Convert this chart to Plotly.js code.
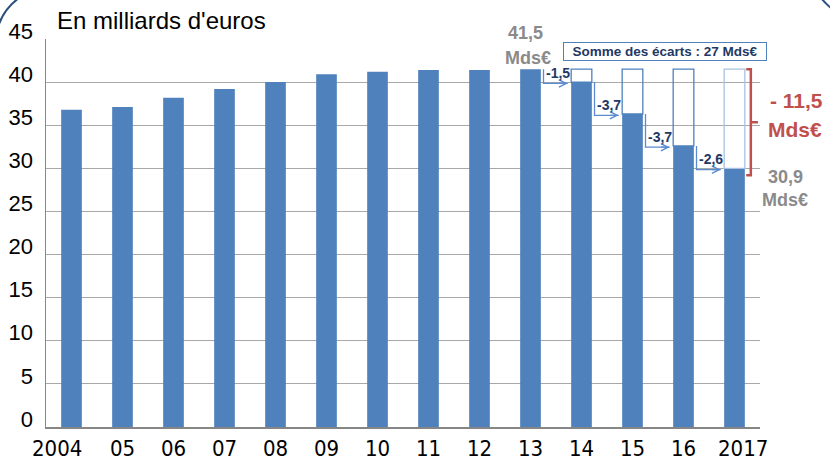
<!DOCTYPE html>
<html>
<head>
<meta charset="utf-8">
<script src="https://cdn.plot.ly/plotly-3.0.1.min.js"></script>
<style>html,body{margin:0;padding:0;background:#fff}#chart{width:830px;height:461px}</style>
</head>
<body>
<div id="chart"></div>
<script>
// ---- data ----
const years = [2004, 2005, 2006, 2007, 2008, 2009, 2010, 2011, 2012, 2013, 2014, 2015, 2016, 2017];
const tickLabels = ['2004', '05', '06', '07', '08', '09', '10', '11', '12', '13', '14', '15', '16', '2017'];
const values = [36.8, 37.1, 38.2, 39.2, 40.0, 40.9, 41.2, 41.4, 41.4, 41.5, 40.0, 36.3, 32.6, 30.0];
const peakYear = 2013;
const peakValue = 41.5;
const declineYears = [2014, 2015, 2016, 2017];
const declineLabels = ['-1,5', '-3,7', '-3,7', '-2,6'];
const unitLabel = "En milliards d'euros";
const peakLabel = ['41,5', 'Mds€'];
const endLabel = ['30,9', 'Mds€'];
const totalLabel = ['- 11,5', 'Mds€'];
const sumLabel = 'Somme des écarts : 27 Mds€';

// ---- layout helpers (pixels -> paper) ----
const L = 46, R = 760, T = 39, B = 427;
const px = x => (x - L) / (R - L);
const py = y => (B - y) / (B - T);

const BLUE = '#4F81BD', NAVY = '#1f3864', RED = '#c0504d', GREY = '#8a8a8a';
const FONT = 'Liberation Sans, Arial, sans-serif';
const NARROW = 'Liberation Sans Narrow, DejaVu Sans Condensed, Arial Narrow, sans-serif';
const barW = 0.405;

const declineVals = declineYears.map(y => values[years.indexOf(y)]);

const traces = [
  {
    type: 'bar', x: years, y: values, width: barW,
    marker: {color: BLUE, line: {width: 0}}, hoverinfo: 'skip'
  },
  {
    type: 'bar', x: declineYears, base: declineVals,
    y: declineVals.map(v => peakValue - v), width: barW,
    marker: {color: 'rgba(0,0,0,0)', line: {color: [BLUE, BLUE, BLUE, '#a9c1e0'], width: 1.3}},
    hoverinfo: 'skip'
  }
];

const shapes = [];
const annotations = [];

// x tick labels as annotations (end labels slightly offset like the original)
const labelShift = {0: -15, 13: 8};
tickLabels.forEach((t, i) => {
  annotations.push({
    xref: 'x', yref: 'paper', x: years[i], y: 0, xanchor: 'center', yanchor: 'middle',
    yshift: -21, xshift: labelShift[i] || 0, text: t, showarrow: false,
    borderpad: 0,
    font: {family: NARROW, size: 22, color: '#000'}
  });
});

// step arrows and decline labels
declineYears.forEach((yr, k) => {
  const i = years.indexOf(yr);
  const prevYr = years[i - 1], prevVal = values[i - 1], val = values[i];
  const xv = prevYr + 0.255, xe = yr - 0.27;
  shapes.push({
    type: 'path', xref: 'x', yref: 'y',
    path: `M ${xv},${prevVal} L ${xv},${val - 0.15} L ${xe},${val - 0.15}`,
    line: {color: '#5b8bd0', width: 1.3}
  });
  annotations.push({
    xref: 'x', yref: 'y', axref: 'x', ayref: 'y',
    x: xe, y: val - 0.15, ax: xe - 0.2, ay: val - 0.15, text: '',
    showarrow: true, arrowhead: 5, arrowsize: 1.1, arrowwidth: 1.3, arrowcolor: '#5b8bd0', standoff: 0
  });
  annotations.push({
    xref: 'x', yref: 'y', x: yr, y: val, xshift: -24, yshift: 9,
    xanchor: 'center', yanchor: 'middle',
    text: declineLabels[k], showarrow: false,
    font: {family: FONT, size: 14, color: NAVY, weight: 'bold'}
  });
});

// red bracket
const lastYear = years[years.length - 1], lastVal = values[values.length - 1];
const bx = lastYear + 0.32, bBot = lastVal - 0.8, bMid = (peakValue + bBot) / 2;
shapes.push({
  type: 'path', xref: 'x', yref: 'y',
  path: `M ${bx - 0.09},${peakValue} L ${bx},${peakValue} L ${bx},${bBot} L ${bx - 0.09},${bBot} M ${bx},${bMid} L ${bx + 0.14},${bMid}`,
  line: {color: RED, width: 2.5}
});

// texts
const txt = (x, y, text, font, extra) => Object.assign({
  xref: 'paper', yref: 'paper', x: px(x), y: py(y), xanchor: 'center', yanchor: 'middle',
  text: text, showarrow: false, font: font
}, extra || {});
annotations.push(
  txt(55, 21, unitLabel, {family: FONT, size: 24, color: '#000'}, {xanchor: 'left'}),
  {xref: 'x', yref: 'paper', x: peakYear, xshift: -5, y: py(33), xanchor: 'center', yanchor: 'middle',
   text: peakLabel[0], showarrow: false, font: {family: FONT, size: 18, color: GREY, weight: 'bold'}},
  {xref: 'x', yref: 'paper', x: peakYear, xshift: -3, y: py(58), xanchor: 'center', yanchor: 'middle',
   text: peakLabel[1], showarrow: false, font: {family: FONT, size: 18, color: GREY, weight: 'bold'}},
  txt(785, 177, endLabel[0], {family: FONT, size: 18, color: GREY, weight: 'bold'}),
  txt(785, 200, endLabel[1], {family: FONT, size: 18, color: GREY, weight: 'bold'}),
  txt(796, 100, totalLabel[0], {family: FONT, size: 21, color: RED, weight: 'bold'}),
  txt(795, 129, totalLabel[1], {family: FONT, size: 21, color: RED, weight: 'bold'}),
  txt(665, 51.5, sumLabel, {family: FONT, size: 13.5, color: NAVY, weight: 'bold'},
      {width: 200, height: 15, borderpad: 1, bordercolor: BLUE, borderwidth: 1, bgcolor: '#fff'})
);

// slide frame arcs (decoration)
shapes.push(
  {type: 'path', xref: 'paper', yref: 'paper', layer: 'above',
   path: `M ${px(-1)},${py(24)} Q ${px(5)},${py(8)} ${px(19)},${py(-2)}`,
   line: {color: '#2b4f7e', width: 2}},
  {type: 'path', xref: 'paper', yref: 'paper', layer: 'above',
   path: `M ${px(821)},${py(-2)} Q ${px(826)},${py(4)} ${px(832)},${py(9)}`,
   line: {color: '#2b4f7e', width: 2}}
);

const layout = {
  width: 830, height: 461,
  margin: {l: L, r: 830 - R, t: T, b: 461 - B, pad: 0},
  paper_bgcolor: '#fff', plot_bgcolor: '#fff',
  showlegend: false, barmode: 'overlay',
  xaxis: {
    range: [2003.5, 2017.5], showgrid: false, zeroline: false,
    showline: true, linecolor: '#868686', linewidth: 1.5,
    showticklabels: false, ticks: '', fixedrange: true
  },
  yaxis: {
    range: [0, 45], dtick: 5, tick0: 0, showgrid: true, gridcolor: '#a8a8a8', gridwidth: 1,
    zeroline: false, showline: true, linecolor: '#868686', linewidth: 1.5,
    ticks: '', ticklabelstandoff: 7, ticklabelshift: -8,
    tickfont: {family: FONT, size: 22, color: '#000'}, fixedrange: true
  },
  shapes: shapes,
  annotations: annotations
};

Plotly.newPlot('chart', traces, layout, {staticPlot: true, displayModeBar: false});
</script>
</body>
</html>
